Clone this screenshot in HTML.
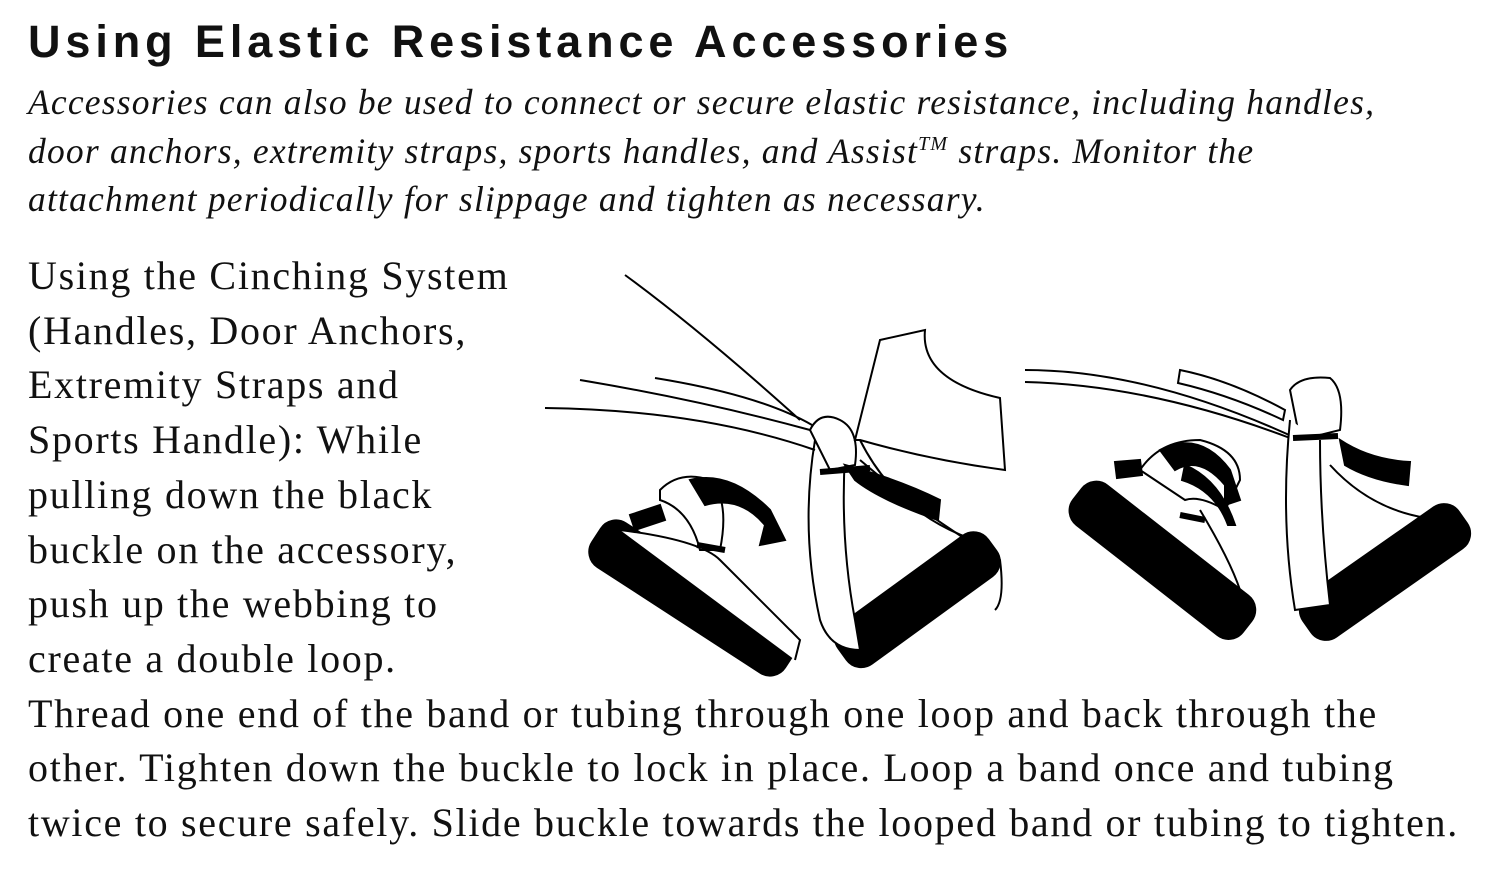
<!DOCTYPE html>
<html><head><meta charset="utf-8"><style>
html,body{margin:0;padding:0;background:#fff;}
body{width:1500px;height:870px;position:relative;overflow:hidden;color:#111;}
.t{position:absolute;left:28px;top:16px;font:bold 45px "Liberation Sans",sans-serif;letter-spacing:4.9px;white-space:nowrap;}
.it{position:absolute;left:28px;top:78px;font:italic 35.5px/48.5px "Liberation Serif",serif;letter-spacing:1.2px;white-space:nowrap;}
.it sup{font-size:20px;line-height:0;}
.b{position:absolute;left:28px;top:249px;font:40px/54.7px "Liberation Serif",serif;letter-spacing:1.7px;white-space:nowrap;}
svg{position:absolute;left:0;top:0;}
</style></head><body>
<div class="t">Using Elastic Resistance Accessories</div>
<div class="it">Accessories can also be used to connect or secure elastic resistance, including handles,<br>door anchors, extremity straps, sports handles, and Assist<sup>TM</sup> straps. Monitor the<br>attachment periodically for slippage and tighten as necessary.</div>
<div class="b">Using the Cinching System<br>(Handles, Door Anchors,<br>Extremity Straps and<br>Sports Handle): While<br>pulling down the black<br>buckle on the accessory,<br>push up the webbing to<br>create a double loop.<br>Thread one end of the band or tubing through one loop and back through the<br>other. Tighten down the buckle to lock in place. Loop a band once and tubing<br>twice to secure safely. Slide buckle towards the looped band or tubing to tighten.</div>
<svg width="1500" height="870" viewBox="0 0 1500 870" fill="none" stroke="#000" stroke-width="2">
<rect x="578" y="572" width="230" height="52" rx="18" fill="#000" transform="rotate(33 693 598)"/>
<rect x="825" y="575" width="185" height="50" rx="18" fill="#000" transform="rotate(-36 917 600)"/>
<rect x="1055" y="535" width="215" height="50" rx="18" fill="#000" transform="rotate(38 1162 560)"/>
<rect x="1290" y="547" width="190" height="50" rx="18" fill="#000" transform="rotate(-35 1385 572)"/>
<path d="M620 530 Q700 540 720 560 Q760 600 800 640 L795 660" fill="#fff"/>
<path d="M660 490 Q680 470 710 480 Q730 500 720 550 L700 550 Q690 510 660 500 Z" fill="#fff"/>
<path d="M690 480 Q730 470 770 510 L785 540 L760 545 L765 525 Q740 495 705 505 Z" fill="#000"/>
<path d="M630 515 L660 505 L665 520 L635 530 Z" fill="#000"/>
<path d="M697 545 L725 550" stroke-width="6"/>
<path d="M815 440 Q800 530 820 620 Q830 650 860 650 L855 620 Q840 540 845 455" fill="#fff"/>
<path d="M810 430 Q820 410 840 420 Q860 430 855 465 L830 470 Z" fill="#fff"/>
<path d="M845 465 Q900 480 940 500 L938 520 Q880 500 855 480 Z" fill="#000"/>
<path d="M820 472 L870 468" stroke-width="6"/>
<path d="M855 440 L880 340 L925 330 Q920 380 1000 398 L1005 470 Q930 460 860 440 Z" fill="#fff"/>
<path d="M625 275 Q700 330 800 420 M580 380 Q700 400 810 430 M545 408 Q700 410 815 450 M655 378 Q760 395 812 425 M860 440 Q900 520 990 545"/>
<path d="M860 460 Q930 520 1000 560 Q1005 600 995 610"/>
<path d="M1025 370 Q1150 370 1300 440 M1025 382 Q1150 385 1290 438"/>
<path d="M1180 370 Q1230 380 1285 410 L1283 420 Q1230 395 1178 383 Z" fill="#fff"/>
<path d="M1290 390 Q1300 375 1330 378 Q1345 390 1340 430 L1300 440 Z" fill="#fff"/>
<path d="M1290 420 Q1280 520 1295 610 L1330 605 Q1320 520 1320 440" fill="#fff"/>
<path d="M1293 438 L1338 436" stroke-width="6"/>
<path d="M1340 440 Q1370 460 1410 462 L1408 485 Q1370 480 1345 465 Z" fill="#000"/>
<path d="M1330 465 Q1380 520 1455 520"/>
<path d="M1140 470 Q1160 440 1200 440 Q1240 450 1240 480 L1225 510 Q1200 495 1185 500 Z" fill="#fff"/>
<path d="M1160 450 Q1200 430 1230 470 L1240 500 L1225 505 L1225 485 Q1200 455 1175 470 Z" fill="#000"/>
<path d="M1185 465 Q1220 480 1235 525 L1228 525 Q1215 490 1182 480 Z" fill="#000"/>
<path d="M1115 462 L1140 460 L1142 475 L1117 478 Z" fill="#000"/>
<path d="M1180 515 L1205 520" stroke-width="6"/>
<path d="M1200 510 Q1230 560 1240 590"/>
</svg>
</body></html>
